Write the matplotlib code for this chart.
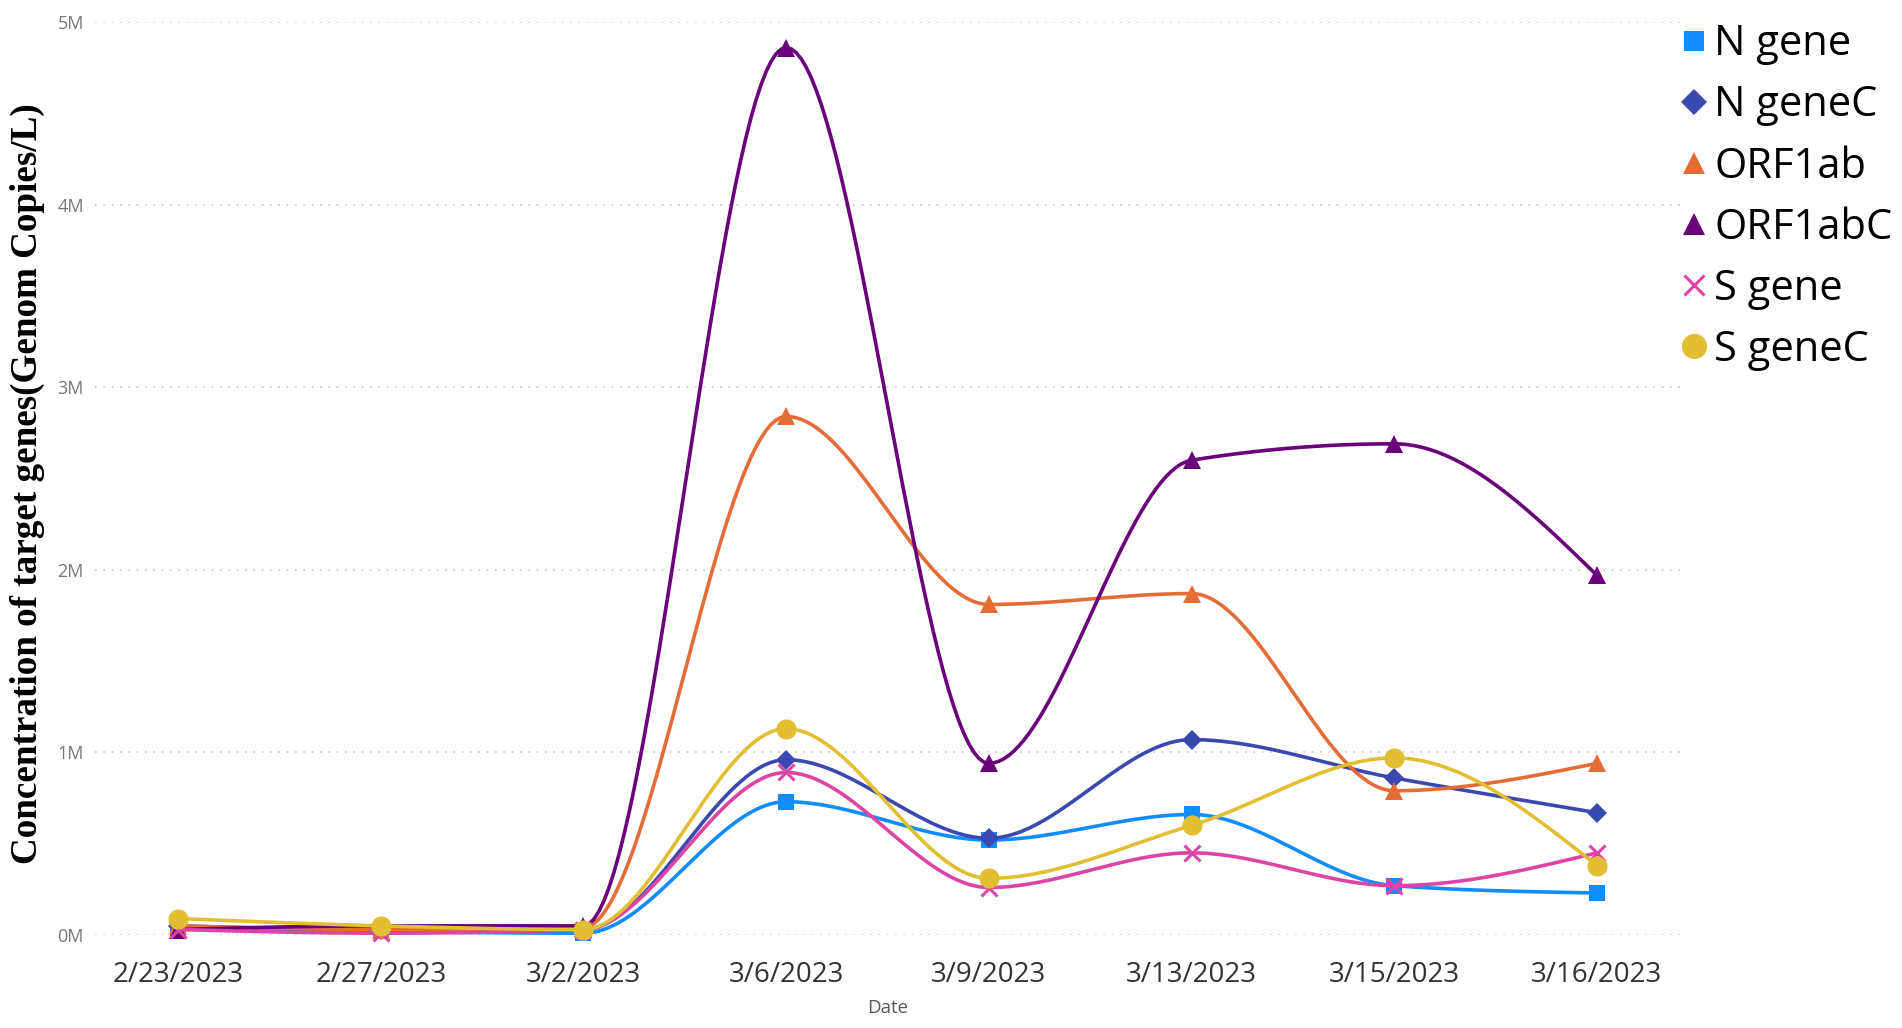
import numpy as np
import matplotlib.pyplot as plt
from matplotlib.lines import Line2D

dates = ['2/23/2023', '2/27/2023', '3/2/2023', '3/6/2023',
         '3/9/2023', '3/13/2023', '3/15/2023', '3/16/2023']

# значения в копиях/л
n_gene = [0.04e6, 0.02e6, 0.01e6, 0.73e6, 0.52e6, 0.66e6, 0.27e6, 0.23e6]
n_geneC = [0.05e6, 0.03e6, 0.03e6, 0.96e6, 0.53e6, 1.07e6, 0.86e6, 0.67e6]
orf1ab = [0.05e6, 0.03e6, 0.04e6, 2.84e6, 1.81e6, 1.87e6, 0.79e6, 0.94e6]
orf1abC = [0.03e6, 0.05e6, 0.05e6, 4.86e6, 0.94e6, 2.60e6, 2.69e6, 1.97e6]
s_gene = [0.03e6, 0.01e6, 0.03e6, 0.89e6, 0.26e6, 0.45e6, 0.27e6, 0.45e6]
s_geneC = [0.09e6, 0.05e6, 0.03e6, 1.13e6, 0.31e6, 0.60e6, 0.97e6, 0.38e6]

series = [
    ('N gene', n_gene, '#118DFF', 's', 11.5),
    ('N geneC', n_geneC, '#3A48B0', 'D', 10.5),
    ('ORF1ab', orf1ab, '#E66C37', '^', 13),
    ('ORF1abC', orf1abC, '#6B007B', '^', 13),
    ('S gene', s_gene, '#DC45A5', 'x', 12),
    ('S geneC', s_geneC, '#E2BF32', 'o', 14.5),
]


def monotone_curve(y, n=40):
    """Монотонная кубическая интерполяция (как monotoneX), шаг по x = 1."""
    y = np.asarray(y, dtype=float)
    d = np.diff(y)
    m = np.zeros_like(y)
    for i in range(1, len(y) - 1):
        s0, s1 = d[i - 1], d[i]
        p = (s0 + s1) / 2
        m[i] = (np.sign(s0) + np.sign(s1)) * min(abs(s0), abs(s1), 0.5 * abs(p))
    m[0] = (3 * d[0] - m[1]) / 2
    m[-1] = (3 * d[-1] - m[-2]) / 2
    xs, ys = [], []
    for i in range(len(y) - 1):
        t = np.linspace(0, 1, n, endpoint=False)
        h00 = 2 * t**3 - 3 * t**2 + 1
        h10 = t**3 - 2 * t**2 + t
        h01 = -2 * t**3 + 3 * t**2
        h11 = t**3 - t**2
        ys.append(h00 * y[i] + h10 * m[i] + h01 * y[i + 1] + h11 * m[i + 1])
        xs.append(i + t)
    xs.append([len(y) - 1])
    ys.append([y[-1]])
    return np.concatenate(xs), np.concatenate(ys)


W, H = 1902, 1028
fig = plt.figure(figsize=(W / 100, H / 100), dpi=100)
ax = fig.add_axes([95 / W, (H - 935) / H, (1680 - 95) / W, (935 - 22) / H])

x = np.arange(len(dates))
for name, vals, col, mk, ms in series:
    cx, cy = monotone_curve(vals)
    ax.plot(cx, cy, color=col, lw=2.6, clip_on=False, solid_capstyle='round')
    mew = 2.2 if mk == 'x' else 0
    ax.plot(x, vals, linestyle='none', marker=mk, markersize=ms,
            color=col, markeredgewidth=mew, clip_on=False)

ax.set_xlim(-0.41, len(dates) - 1 + 0.41)
ax.set_ylim(0, 5e6)
ax.set_yticks(np.arange(0, 5.1e6, 1e6))
ax.set_yticklabels([f'{i}M' for i in range(6)])
ax.set_xticks(x)
ax.set_xticklabels(dates)

ax.grid(axis='y', linestyle=(0, (1, 4)), color='#C8C8C8', lw=1.2)
ax.set_axisbelow(True)
for sp in ax.spines.values():
    sp.set_visible(False)
ax.tick_params(axis='both', length=0)
ax.tick_params(axis='y', labelsize=13, labelcolor='#777777', pad=8)
ax.tick_params(axis='x', labelsize=20, labelcolor='#333333', pad=19)
for lab in ax.get_xticklabels() + ax.get_yticklabels():
    lab.set_family('Open Sans')

ax.set_xlabel('Date', fontsize=13.5, color='#555555', family='Open Sans', labelpad=7)
fig.text(27 / W, 1 - 484 / H, 'Concentration of target genes(Genom Copies/L)',
         rotation=90, ha='center', va='center', fontsize=26.7,
         family='Liberation Serif', fontweight='bold', color='black')

handles = []
for name, vals, col, mk, ms in series:
    mew = 2.2 if mk == 'x' else 0
    handles.append(Line2D([], [], linestyle='none', marker=mk, color=col,
                          markersize=ms * 1.25, markeredgewidth=mew))
fig.legend(handles, [s[0] for s in series], loc='upper left',
           bbox_to_anchor=(1652 / W, 1 + 6 / H), frameon=False,
           prop={'family': 'Open Sans', 'size': 30}, handlelength=0.6,
           handletextpad=0.2, labelspacing=0.46, borderpad=0.2)

fig.savefig('out.png', dpi=100)
